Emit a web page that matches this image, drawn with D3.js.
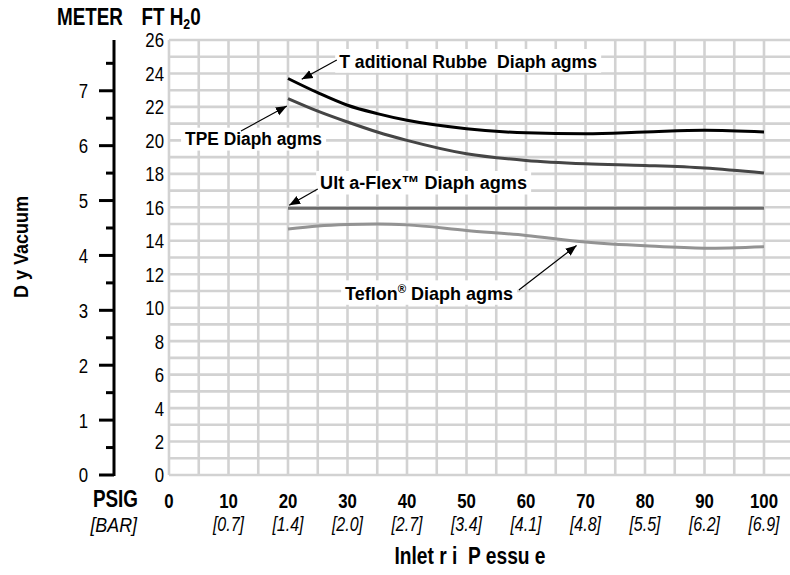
<!DOCTYPE html>
<html>
<head>
<meta charset="utf-8">
<script src="https://cdn.jsdelivr.net/npm/d3@7"></script>
<style>
  html, body { margin: 0; padding: 0; background: #fff; }
  svg { display: block; }
  text { font-family: "Liberation Sans", Arial, "DejaVu Sans", sans-serif; fill: #000; white-space: pre; }
</style>
</head>
<body>
<svg id="chart" width="790" height="575"></svg>
<script>
// ---- data ----
const psig = [20, 25, 30, 35, 40, 50, 60, 70, 80, 90, 100];
const rubber = [23.7, 22.85, 22.1, 21.6, 21.2, 20.7, 20.45, 20.4, 20.5, 20.6, 20.5];
const tpe    = [22.5, 21.75, 21.1, 20.5, 20.0, 19.2, 18.8, 18.6, 18.5, 18.35, 18.05];
const ultra  = [15.95, 15.95, 15.95, 15.95, 15.95, 15.95, 15.95, 15.95, 15.95, 15.95, 15.95];
const teflon = [14.7, 14.88, 14.97, 15.0, 14.95, 14.62, 14.32, 13.93, 13.7, 13.56, 13.65];

const xTicks = [0, 10, 20, 30, 40, 50, 60, 70, 80, 90, 100];
const barLabels = ["", "[0.7]", "[1.4]", "[2.0]", "[2.7]", "[3.4]", "[4.1]", "[4.8]", "[5.5]", "[6.2]", "[6.9]"];
const ftTicks = [0, 2, 4, 6, 8, 10, 12, 14, 16, 18, 20, 22, 24, 26];
const meterTicks = [0, 1, 2, 3, 4, 5, 6, 7];
const meterMinor = [0.5, 1.5, 2.5, 3.5, 4.5, 5.5, 6.5, 7.5];

// annotations: label parts, text position, arrow tail & head in data units (psig, ft)
const annotations = [
  { text: ["T aditional Rubbe  Diaph agms"], tx: 28.6, ty: 24.35, w: 258, tail: [28.2, 24.8], head: [22.3, 23.65] },
  { text: ["TPE Diaph agms"], tx: 2.7, ty: 19.7, w: 137, tail: [12.1, 20.56], head: [19.8, 22.05] },
  { text: ["Ult a-Flex\u2122 Diaph agms"], tx: 25.4, ty: 17.07, w: 207, tail: [25.0, 17.1], head: [20.2, 16.12] },
  { text: ["Teflon", "\u00AE", " Diaph agms"], tx: 29.6, ty: 10.48, w: 168, tail: [58.8, 11.06], head: [68.5, 13.72] }
];

// ---- layout ----
const svg = d3.select("#chart");
const x = d3.scaleLinear().domain([0, 100]).range([169, 764]);
const y = d3.scaleLinear().domain([0, 26]).range([475, 40]);
const yM = d3.scaleLinear().domain([0, 26 / 3.28084]).range([475, 40]);

function condense(sel, s) {
  sel.each(function () {
    const X = +this.getAttribute("x");
    this.setAttribute("transform", `translate(${X},0) scale(${s},1) translate(${-X},0)`);
  });
}

// grid
const grid = svg.append("g").attr("stroke", "#d2d2d2").attr("stroke-width", 2.6);
grid.selectAll("line.h").data(d3.range(0, 27)).join("line")
  .attr("x1", x(0)).attr("x2", 790).attr("y1", d => y(d)).attr("y2", d => y(d));
grid.selectAll("line.v").data(d3.range(0, 110, 5)).join("line")
  .attr("x1", d => x(d)).attr("x2", d => x(d)).attr("y1", y(26)).attr("y2", y(0));

// FT labels
svg.append("g").selectAll("text").data(ftTicks).join("text")
  .attr("x", 164).attr("y", d => y(d) + 7.5).attr("text-anchor", "end")
  .attr("font-size", 21).text(d => d).call(condense, 0.8);

// meter axis
const mAxis = svg.append("g");
mAxis.append("line").attr("x1", 114).attr("x2", 114).attr("y1", 40).attr("y2", 476)
  .attr("stroke", "#000").attr("stroke-width", 3);
mAxis.selectAll("line.maj").data(meterTicks).join("line").attr("class", "maj")
  .attr("x1", 99).attr("x2", 114).attr("y1", d => yM(d)).attr("y2", d => yM(d))
  .attr("stroke", "#000").attr("stroke-width", 3);
mAxis.selectAll("line.min").data(meterMinor).join("line").attr("class", "min")
  .attr("x1", 106).attr("x2", 114).attr("y1", d => yM(d)).attr("y2", d => yM(d))
  .attr("stroke", "#000").attr("stroke-width", 3);
mAxis.selectAll("text").data(meterTicks).join("text")
  .attr("x", 88).attr("y", d => yM(d) + 7.5).attr("text-anchor", "end")
  .attr("font-size", 21).text(d => d).call(condense, 0.8);

// titles
const t1 = svg.append("text").attr("x", 57).attr("y", 25).attr("font-size", 23).attr("font-weight", "bold");
t1.append("tspan").text("METER");
t1.append("tspan").attr("x", 160).text("FT H");
t1.append("tspan").attr("font-size", 15).attr("dy", 4).text("2");
t1.append("tspan").attr("font-size", 23).attr("dy", -4).text("0");
t1.call(condense, 0.82);

svg.append("text").attr("x", 0).attr("y", 0)
  .attr("transform", "translate(28,247) rotate(-90) scale(0.9,1)")
  .attr("text-anchor", "middle").attr("font-size", 20).attr("font-weight", "bold").text("D y Vacuum");

// x labels
svg.append("text").attr("x", 138).attr("y", 507).attr("text-anchor", "end")
  .attr("font-size", 23).attr("font-weight", "bold").text("PSIG").call(condense, 0.82);
svg.append("text").attr("x", 137).attr("y", 532).attr("text-anchor", "end")
  .attr("font-size", 21).attr("font-style", "italic").text("[BAR]").call(condense, 0.85);
svg.append("g").selectAll("text").data(xTicks).join("text")
  .attr("x", d => x(d)).attr("y", 508).attr("text-anchor", "middle")
  .attr("font-size", 21).attr("font-weight", "bold").text(d => d).call(condense, 0.8);
svg.append("g").selectAll("text").data(xTicks).join("text")
  .attr("x", d => x(d)).attr("y", 531).attr("text-anchor", "middle")
  .attr("font-size", 20).attr("font-style", "italic").text((d, i) => barLabels[i]).call(condense, 0.8);
svg.append("text").attr("x", 470).attr("y", 564).attr("text-anchor", "middle")
  .attr("font-size", 24).attr("font-weight", "bold").text("Inlet r i  P essu e").call(condense, 0.8);

// curves
const series = [
  { v: rubber, color: "#000000" },
  { v: tpe, color: "#454545" },
  { v: ultra, color: "#6a6a6a" },
  { v: teflon, color: "#939393" }
];
const line = d3.line().x(d => x(d[0])).y(d => y(d[1])).curve(d3.curveMonotoneX);
svg.append("g").selectAll("path").data(series).join("path")
  .attr("d", s => line(psig.map((p, i) => [p, s.v[i]])))
  .attr("fill", "none").attr("stroke", s => s.color).attr("stroke-width", 3);

// annotations
svg.append("defs").append("marker").attr("id", "arr").attr("viewBox", "0 0 10 10")
  .attr("refX", 10).attr("refY", 5).attr("markerWidth", 11).attr("markerHeight", 11)
  .attr("markerUnits", "userSpaceOnUse").attr("orient", "auto")
  .append("path").attr("d", "M0,1 L10,5 L0,9 Z").attr("fill", "#000");

annotations.forEach(a => {
  const g = svg.append("g");
  const rect = g.append("rect").attr("fill", "#fff");
  const t = g.append("text").attr("x", x(a.tx)).attr("y", y(a.ty))
    .attr("font-size", 19).attr("font-weight", "bold");
  a.text.forEach((s, i) => {
    const ts = t.append("tspan").text(s);
    if (s === "\u00AE") ts.attr("font-size", 12).attr("dy", -7);
    else if (i > 0 && a.text[i - 1] === "\u00AE") ts.attr("dy", 7);
  });
  const bb0 = t.node().getBBox();
  const sx = a.w / bb0.width;
  t.attr("transform", `translate(${x(a.tx)},0) scale(${sx},1) translate(${-x(a.tx)},0)`);
  const bb = t.node().getBBox();
  rect.attr("x", x(a.tx) - 4).attr("y", bb.y - 1).attr("width", a.w + 8).attr("height", bb.height + 2);
  g.append("line")
    .attr("x1", x(a.tail[0])).attr("y1", y(a.tail[1]))
    .attr("x2", x(a.head[0])).attr("y2", y(a.head[1]))
    .attr("stroke", "#000").attr("stroke-width", 1.2).attr("marker-end", "url(#arr)");
});
</script>
</body>
</html>
